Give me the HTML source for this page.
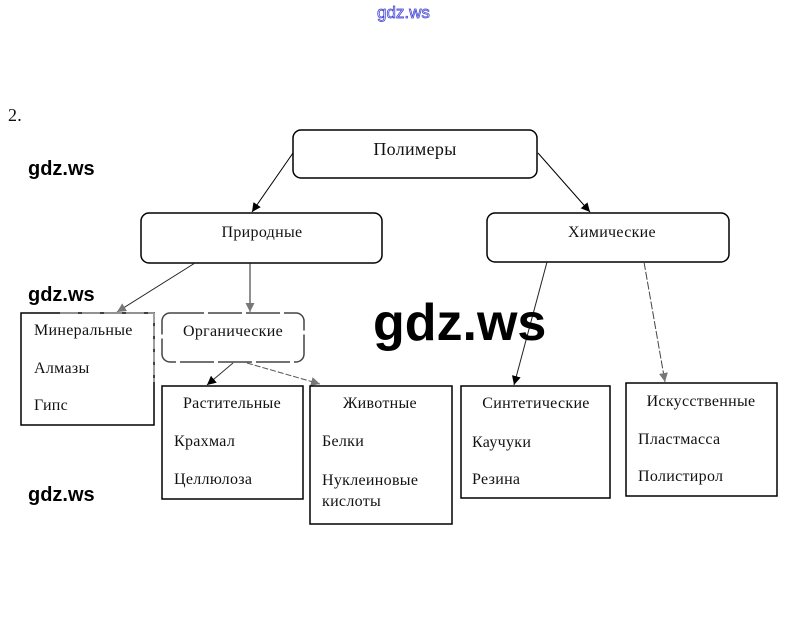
<!DOCTYPE html>
<html>
<head>
<meta charset="utf-8">
<style>
html,body{margin:0;padding:0;background:#fff;}
svg{display:block;}
.s{font-family:"Liberation Serif","Noto Serif CJK SC",serif;fill:#111;letter-spacing:0.3px;}
.w{font-family:"Liberation Sans",sans-serif;fill:#000;}
</style>
</head>
<body>
<svg width="808" height="624" viewBox="0 0 808 624" xmlns="http://www.w3.org/2000/svg">
<defs>
<marker id="a" viewBox="0 0 10 10" refX="10" refY="5" markerWidth="9" markerHeight="9" markerUnits="userSpaceOnUse" orient="auto">
<path d="M0,0 L10,5 L0,10 z" fill="#000"/>
</marker>
<marker id="g" viewBox="0 0 10 10" refX="10" refY="5" markerWidth="9" markerHeight="9" markerUnits="userSpaceOnUse" orient="auto">
<path d="M0,0 L10,5 L0,10 z" fill="#777"/>
</marker>
</defs>

<!-- top blue watermark -->
<text x="377" y="18" font-family="Liberation Sans, sans-serif" font-size="17" fill="#dfe0ff" stroke="#3a3ad0" stroke-width="0.7">gdz.ws</text>

<!-- 2. -->
<text class="s" x="8" y="121" font-size="18">2.</text>

<!-- small watermarks -->
<text class="w" x="28" y="175" font-size="20" font-weight="bold">gdz.ws</text>
<text class="w" x="28" y="301" font-size="20" font-weight="bold">gdz.ws</text>
<text class="w" x="28" y="501" font-size="20" font-weight="bold">gdz.ws</text>

<!-- level 1 -->
<rect x="293" y="130" width="244" height="48" rx="8" fill="#fff" stroke="#000" stroke-width="1.5"/>
<text class="s" x="415" y="155" font-size="18" text-anchor="middle">Полимеры</text>

<!-- level 2 -->
<rect x="141" y="213" width="241" height="50" rx="8" fill="#fff" stroke="#000" stroke-width="1.5"/>
<text class="s" x="262" y="237" font-size="16" text-anchor="middle">Природные</text>
<rect x="487" y="213" width="242" height="49" rx="8" fill="#fff" stroke="#000" stroke-width="1.5"/>
<text class="s" x="612" y="237" font-size="16" text-anchor="middle">Химические</text>

<!-- arrows level1->2 -->
<line x1="293" y1="153" x2="252" y2="212" stroke="#000" stroke-width="1" marker-end="url(#a)"/>
<line x1="538" y1="153" x2="590" y2="212" stroke="#000" stroke-width="1" marker-end="url(#a)"/>

<!-- Prirodnye children arrows -->
<line x1="195" y1="263" x2="117" y2="312" stroke="#222" stroke-width="1" marker-end="url(#g)"/>
<line x1="250" y1="263" x2="250" y2="312" stroke="#222" stroke-width="1" marker-end="url(#g)"/>

<!-- Mineral box -->
<rect x="21" y="313" width="133" height="112" fill="none" stroke="#000" stroke-width="1.5"/>
<line x1="60" y1="313" x2="154" y2="313" stroke="#999" stroke-width="1.5" stroke-dasharray="18 4"/>
<line x1="154" y1="313" x2="154" y2="382" stroke="#aaa" stroke-width="1.5" stroke-dasharray="10 3"/>
<text class="s" x="34" y="335" font-size="16">Минеральные</text>
<text class="s" x="34" y="373" font-size="16">Алмазы</text>
<text class="s" x="34" y="410" font-size="16">Гипс</text>

<!-- Organic box -->
<rect x="162" y="313" width="142" height="49" rx="8" fill="none" stroke="#444" stroke-width="1.5" stroke-dasharray="34 4"/>
<text class="s" x="233" y="336" font-size="16" text-anchor="middle">Органические</text>

<!-- Organic arrows -->
<line x1="233" y1="363" x2="207" y2="385" stroke="#333" stroke-width="1" marker-end="url(#a)"/>
<line x1="247" y1="363" x2="320" y2="384" stroke="#555" stroke-width="1" stroke-dasharray="6 2" marker-end="url(#g)"/>

<!-- Rast box -->
<rect x="162" y="386" width="141" height="113" fill="#fff" stroke="#000" stroke-width="1.5"/>
<text class="s" x="232" y="408" font-size="16" text-anchor="middle">Растительные</text>
<text class="s" x="174" y="446" font-size="16">Крахмал</text>
<text class="s" x="174" y="484" font-size="16">Целлюлоза</text>

<!-- Zhiv box -->
<rect x="310" y="386" width="142" height="138" fill="#fff" stroke="#000" stroke-width="1.5"/>
<text class="s" x="380" y="408" font-size="16" text-anchor="middle">Животные</text>
<text class="s" x="322" y="446" font-size="16">Белки</text>
<text class="s" x="322" y="485" font-size="16">Нуклеиновые</text>
<text class="s" x="322" y="506" font-size="16">кислоты</text>

<!-- Khim arrows -->
<line x1="547" y1="262" x2="514" y2="385" stroke="#222" stroke-width="1" marker-end="url(#a)"/>
<line x1="644" y1="262" x2="665" y2="382" stroke="#444" stroke-width="1" stroke-dasharray="8 2" marker-end="url(#g)"/>

<!-- Synth box -->
<rect x="461" y="386" width="149" height="112" fill="#fff" stroke="#000" stroke-width="1.5"/>
<text class="s" x="536" y="408" font-size="16" text-anchor="middle">Синтетические</text>
<text class="s" x="472" y="447" font-size="16">Каучуки</text>
<text class="s" x="472" y="484" font-size="16">Резина</text>

<!-- Iskus box -->
<rect x="626" y="383" width="151" height="113" fill="#fff" stroke="#000" stroke-width="1.5"/>
<text class="s" x="701" y="406" font-size="16" text-anchor="middle">Искусственные</text>
<text class="s" x="638" y="444" font-size="16">Пластмасса</text>
<text class="s" x="638" y="481" font-size="16">Полистирол</text>

<!-- big watermark -->
<text class="w" x="373" y="340" font-size="52" font-weight="bold">gdz.ws</text>
</svg>
</body>
</html>
